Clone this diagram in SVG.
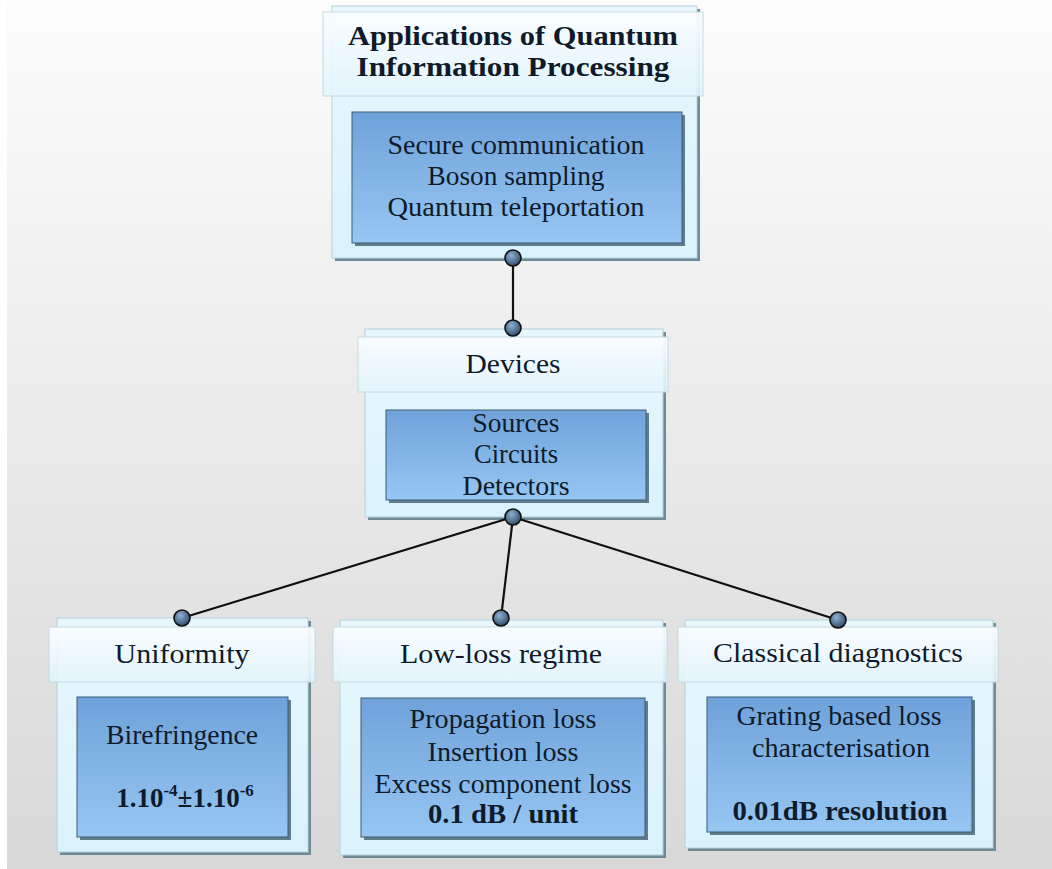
<svg xmlns="http://www.w3.org/2000/svg" width="1052" height="869" viewBox="0 0 1052 869">
<defs>
<linearGradient id="bg" x1="0" y1="0" x2="0" y2="1"><stop offset="0" stop-color="#fcfcfc"/><stop offset="1" stop-color="#d8d8d8"/></linearGradient>
<linearGradient id="body" x1="0" y1="0" x2="0" y2="1"><stop offset="0" stop-color="#e8f7fd"/><stop offset="1" stop-color="#daf2fc"/></linearGradient>
<linearGradient id="head" x1="0" y1="0" x2="0" y2="1"><stop offset="0" stop-color="#fafdff" stop-opacity="0.95"/><stop offset="1" stop-color="#e2f4fb" stop-opacity="0.9"/></linearGradient>
<linearGradient id="inner" x1="0" y1="0" x2="0" y2="1"><stop offset="0" stop-color="#6fa2da"/><stop offset="1" stop-color="#96c6f2"/></linearGradient>
<radialGradient id="dot" cx="0.4" cy="0.35" r="0.7"><stop offset="0" stop-color="#8eb0d2"/><stop offset="1" stop-color="#2b4864"/></radialGradient>
</defs>
<style>
.sh{fill:#6e8b95}
.bd{fill:url(#body);stroke:#b4d2dd;stroke-width:1}
.hd{fill:url(#head);stroke:#c4dae3;stroke-width:1}
.ish{fill:#5f7d8c}
.in{fill:url(#inner);stroke:#3d5d76;stroke-width:1}
text{font-family:"Liberation Serif","Times New Roman",serif;fill:#0f1b2a;text-anchor:middle;font-size:27px}
.b{font-weight:bold}
.t{font-size:27px;font-weight:bold}
.ln{stroke:#111;stroke-width:2.2;fill:none}
.dt{fill:url(#dot);stroke:#111;stroke-width:1.6}
</style>
<rect x="0" y="0" width="1052" height="869" fill="#ffffff"/>
<rect x="7" y="0" width="1045" height="869" fill="url(#bg)"/>

<g id="node-applications">
<rect class="sh" x="335" y="9" width="365" height="252"/>
<rect class="bd" x="332" y="6" width="365" height="252"/>
<rect class="hd" x="323" y="12" width="380" height="84"/>
<rect class="ish" x="355" y="115" width="330" height="131"/>
<rect class="in" x="352" y="112" width="330" height="131"/>
<text class="t" x="513" y="45" textLength="330" lengthAdjust="spacingAndGlyphs">Applications of Quantum</text>
<text class="t" x="513" y="76" textLength="313" lengthAdjust="spacingAndGlyphs">Information Processing</text>
<text x="516" y="154" textLength="257" lengthAdjust="spacingAndGlyphs">Secure communication</text>
<text x="516" y="185" textLength="177" lengthAdjust="spacingAndGlyphs">Boson sampling</text>
<text x="516" y="216" textLength="257" lengthAdjust="spacingAndGlyphs">Quantum teleportation</text>
</g>

<g id="node-devices">
<rect class="sh" x="368" y="332" width="298" height="188"/>
<rect class="bd" x="365" y="329" width="298" height="188"/>
<rect class="hd" x="358" y="337" width="310" height="55"/>
<rect class="ish" x="389" y="413" width="260" height="90"/>
<rect class="in" x="386" y="410" width="260" height="90"/>
<text x="513" y="373" textLength="95" lengthAdjust="spacingAndGlyphs">Devices</text>
<text x="516" y="432" textLength="87" lengthAdjust="spacingAndGlyphs">Sources</text>
<text x="516" y="463" textLength="84" lengthAdjust="spacingAndGlyphs">Circuits</text>
<text x="516" y="495" textLength="107" lengthAdjust="spacingAndGlyphs">Detectors</text>
</g>

<g id="node-uniformity">
<rect class="sh" x="60" y="621" width="251" height="234"/>
<rect class="bd" x="57" y="618" width="251" height="234"/>
<rect class="hd" x="49" y="627" width="266" height="55"/>
<rect class="ish" x="80" y="700" width="211" height="140"/>
<rect class="in" x="77" y="697" width="211" height="140"/>
<text x="182" y="663" textLength="135" lengthAdjust="spacingAndGlyphs">Uniformity</text>
<text x="182" y="744" textLength="152" lengthAdjust="spacingAndGlyphs">Birefringence</text>
<text class="b" x="185" y="807" font-size="29">1.10<tspan font-size="17" dy="-11">-4</tspan><tspan dy="11">±1.10</tspan><tspan font-size="17" dy="-11">-6</tspan></text>
</g>

<g id="node-lowloss">
<rect class="sh" x="343" y="623" width="323" height="235"/>
<rect class="bd" x="340" y="620" width="323" height="235"/>
<rect class="hd" x="333" y="627" width="334" height="55"/>
<rect class="ish" x="364" y="701" width="284" height="139"/>
<rect class="in" x="361" y="698" width="284" height="139"/>
<text x="501" y="663" textLength="202" lengthAdjust="spacingAndGlyphs">Low-loss regime</text>
<text x="503" y="728" textLength="187" lengthAdjust="spacingAndGlyphs">Propagation loss</text>
<text x="503" y="761" textLength="151" lengthAdjust="spacingAndGlyphs">Insertion loss</text>
<text x="503" y="793" textLength="257" lengthAdjust="spacingAndGlyphs">Excess component loss</text>
<text class="b" x="503" y="823" font-size="27" textLength="150" lengthAdjust="spacingAndGlyphs">0.1 dB / unit</text>
</g>

<g id="node-classical">
<rect class="sh" x="688" y="623" width="308" height="228"/>
<rect class="bd" x="685" y="620" width="308" height="228"/>
<rect class="hd" x="678" y="627" width="320" height="55"/>
<rect class="ish" x="710" y="700" width="265" height="135"/>
<rect class="in" x="707" y="697" width="265" height="135"/>
<text x="838" y="662" textLength="250" lengthAdjust="spacingAndGlyphs">Classical diagnostics</text>
<text x="839" y="725" textLength="205" lengthAdjust="spacingAndGlyphs">Grating based loss</text>
<text x="841" y="757" textLength="178" lengthAdjust="spacingAndGlyphs">characterisation</text>
<text class="b" x="840" y="820" font-size="27" textLength="215" lengthAdjust="spacingAndGlyphs">0.01dB resolution</text>
</g>

<g id="connectors">
<line class="ln" x1="513" y1="258" x2="513" y2="328"/>
<line class="ln" x1="513" y1="517" x2="182" y2="618"/>
<line class="ln" x1="513" y1="517" x2="501" y2="618"/>
<line class="ln" x1="513" y1="517" x2="838" y2="620"/>
<circle class="dt" cx="513" cy="258" r="8"/>
<circle class="dt" cx="513" cy="328" r="8"/>
<circle class="dt" cx="513" cy="517" r="8"/>
<circle class="dt" cx="182" cy="618" r="8"/>
<circle class="dt" cx="501" cy="618" r="8"/>
<circle class="dt" cx="838" cy="620" r="8"/>
</g>
</svg>
